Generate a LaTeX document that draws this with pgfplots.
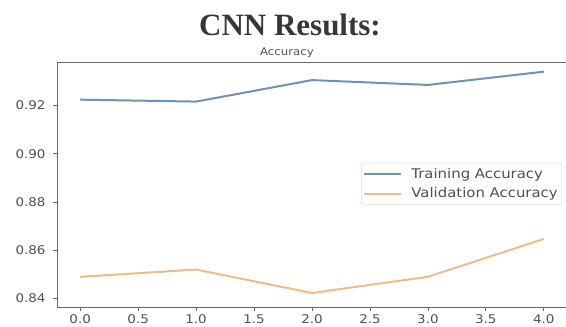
\documentclass[border=0pt]{standalone}
\usepackage{fontspec}
\setmainfont{DejaVu Sans}[FakeStretch=1.12]
\newfontfamily\titlefont{Liberation Serif}
\usepackage{pgfplots}
\pgfplotsset{compat=1.18}

\definecolor{trainblue}{RGB}{112,146,176}
\definecolor{valorange}{RGB}{234,190,138}
\definecolor{framegray}{RGB}{105,105,105}
\definecolor{ticktext}{RGB}{80,80,80}
\definecolor{titlegray}{RGB}{55,55,55}

\begin{document}
\begin{tikzpicture}
\begin{axis}[
  at={(0,0)}, anchor=south west,
  scale only axis, width=510pt, height=245pt,
  xmin=-0.2, xmax=4.2, ymin=0.8365, ymax=0.9380,
  xtick={0,0.5,1,1.5,2,2.5,3,3.5,4},
  ytick={0.84,0.86,0.88,0.90,0.92},
  xtick pos=lower, ytick pos=left,
  tick align=outside, major tick length=4pt,
  tick style={framegray, line width=0.8pt},
  axis line style={framegray, line width=0.9pt},
  /pgf/number format/assume math mode=true,
  tick label style={font=\fontsize{12}{14}\selectfont, text=ticktext},
  x tick label style={/pgf/number format/.cd, fixed, fixed zerofill, precision=1},
  y tick label style={xshift=-4pt, /pgf/number format/.cd, fixed, fixed zerofill, precision=2},
  scaled y ticks=false,
  legend style={at={(0.990,0.588)}, anchor=north east,
    draw=black!15, rounded corners=2pt, fill=white,
    font=\fontsize{13.3}{15}\selectfont, text=ticktext,
    inner xsep=2pt, inner ysep=3pt, row sep=4pt},
  legend cell align=left,
  legend image code/.code={%
    \draw[#1, line width=2pt] (0pt,0pt) -- (37pt,0pt);},
]
% training accuracy per epoch
\addplot[trainblue, line width=2pt] coordinates {
  (0,0.9224) (1,0.9216) (2,0.9305) (3,0.9285) (4,0.9340)
};
\addlegendentry{\hspace{7pt}Training Accuracy}
% validation accuracy per epoch
\addplot[valorange, line width=2pt] coordinates {
  (0,0.8490) (1,0.8520) (2,0.8423) (3,0.8490) (4,0.8647)
};
\addlegendentry{\hspace{7pt}Validation Accuracy}
\end{axis}
\node[font=\fontsize{10.5}{12}\selectfont, text=ticktext] at (230pt,254pt) {Accuracy};
\node[font=\titlefont\bfseries\fontsize{31}{34}\selectfont, text=titlegray] at (233pt,282pt) {CNN Results:};
\pgfresetboundingbox
\path[use as bounding box] (-57pt,-20pt) rectangle (509pt,307pt);
\end{tikzpicture}
\end{document}
